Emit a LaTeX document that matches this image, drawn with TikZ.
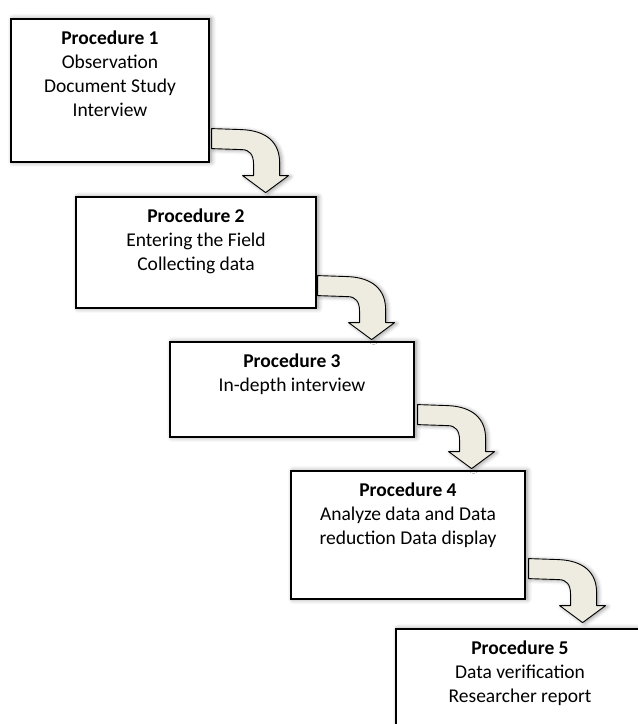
\documentclass[tikz,border=0pt]{standalone}
\usepackage{fontspec}
\setmainfont{Carlito}
\usetikzlibrary{calc,shadows.blur}
\definecolor{cream}{HTML}{EEECE1}
\tikzset{
  procbox/.style={draw=black, line width=1.2pt, fill=white, rectangle, inner sep=0pt,
    blur shadow={shadow xshift=2pt, shadow yshift=0pt, shadow blur radius=5pt, shadow opacity=45}},
  proctext/.style={anchor=base, inner sep=0pt, font=\fontsize{19.5}{24}\selectfont},
  bentarrow/.style={draw=black, line width=0.9pt, fill=cream, line join=round,
    blur shadow={shadow xshift=2pt, shadow yshift=-1pt, shadow blur radius=4pt, shadow opacity=40}}
}
\newcommand\proclines[1]{\begin{tabular}[t]{@{}c@{}}#1\end{tabular}}
\begin{document}
\begin{tikzpicture}[x=1pt,y=1pt]
\clip (0,0) rectangle (638,724);
\useasboundingbox (0,0) rectangle (638,724);
% boxes
\node[procbox, minimum width=198pt, minimum height=143pt] (b1) at (110,633.5) {};
\node[procbox, minimum width=240pt, minimum height=111pt] (b2) at (196,471.5) {};
\node[procbox, minimum width=244pt, minimum height=95pt] (b3) at (292,334.5) {};
\node[procbox, minimum width=234pt, minimum height=128pt] (b4) at (408,189) {};
\node[procbox, minimum width=248pt, minimum height=141pt] (b5) at (520,24.5) {};
% texts
\node[proctext] (t1) at ($(b1.north)+(0,-26)$) {\proclines{\textbf{Procedure 1}\\Observation\\Document Study\\Interview}};
\node[proctext] (t2) at ($(b2.north)+(0,-26)$) {\proclines{\textbf{Procedure 2}\\Entering the Field\\Collecting data}};
\node[proctext] (t3) at ($(b3.north)+(0,-26)$) {\proclines{\textbf{Procedure 3}\\In-depth interview}};
\node[proctext] (t4) at ($(b4.north)+(0,-26)$) {\proclines{\textbf{Procedure 4}\\Analyze data and Data\\reduction Data display}};
\node[proctext] (t5) at ($(b5.north)+(0,-26)$) {\proclines{\textbf{Procedure 5}\\Data verification\\Researcher report}};
% arrow anchors
\coordinate (a1) at ($(b1.south east)+(2,34)$);
\coordinate (a2) at ($(b2.south east)+(1,33)$);
\coordinate (a3) at ($(b3.south east)+(3,33)$);
\coordinate (a4) at ($(b4.south east)+(3,41)$);
\foreach \a in {a1,a2,a3,a4}{
  \draw[bentarrow, shift={(\a)}] (0,0) -- (30,-1) .. controls (55,-2) and (68,-14) .. (68,-34)
    -- (68,-47) -- (77,-47) -- (54,-64) -- (31,-47) -- (42,-47) -- (42,-36)
    .. controls (42,-26) and (38,-21) .. (30,-21) -- (0,-20) -- cycle;
}
\end{tikzpicture}
\end{document}
